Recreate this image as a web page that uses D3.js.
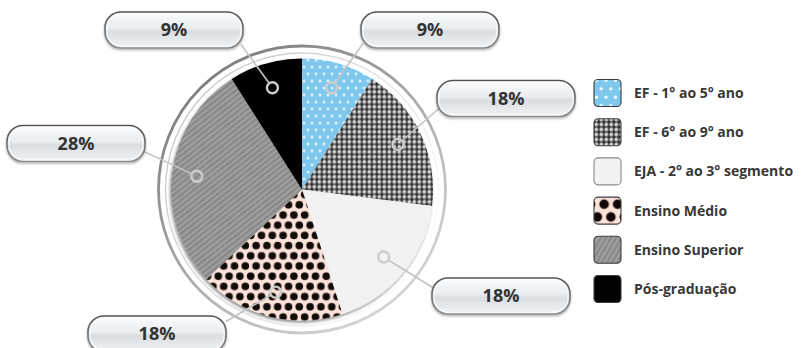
<!DOCTYPE html>
<html>
<head>
<meta charset="utf-8">
<script src="https://cdn.jsdelivr.net/npm/d3@7"></script>
<style>
  html, body { margin: 0; padding: 0; background: #ffffff; }
  svg { display: block; }
  text { font-family: "Open Sans", "DejaVu Sans", sans-serif; }
</style>
</head>
<body>
<svg id="chart" width="803" height="348"></svg>
<script>
// Share of respondents by education level
const categories = [
  "EF - 1° ao 5° ano",
  "EF - 6° ao 9° ano",
  "EJA - 2° ao 3° segmento",
  "Ensino Médio",
  "Ensino Superior",
  "Pós-graduação"
];
const values = [9, 18, 18, 18, 28, 9];
const valueLabels = ["9%", "18%", "18%", "18%", "28%", "9%"];
const fills = ["pBlue", "pMesh", "solidLight", "pDots", "pStripe", "solidBlack"];

// Layout
const W = 803, H = 348;
const cx = 302, cy = 189.5;
const R = 131;          // pie radius
const ringR = 143.5;    // outer bezel radius
const markerR = 106;    // radius of the small marker rings
const boxW = 138, boxH = 36;

// callout boxes: centre offset from pie centre, and where the leader meets the box
const callouts = [
  { dx: 128,  dy: -159.5, ax: 61,  ay: -146 },
  { dx: 204,  dy: -91,    ax: 137, ay: -81 },
  { dx: 199,  dy: 106.5,  ax: 134, ay: 100 },
  { dx: -145, dy: 144.5,  ax: -76, ay: 132 },
  { dx: -226, dy: -46,    ax: -158,ay: -38 },
  { dx: -128, dy: -159.5, ax: -61, ay: -145 }
];

const svg = d3.select("#chart");
const defs = svg.append("defs");

// ---- patterns ----
function patternBlue(id, s) {
  const p = defs.append("pattern").attr("id", id)
    .attr("patternUnits", "userSpaceOnUse")
    .attr("width", 8 * s).attr("height", 14 * s);
  p.append("rect").attr("width", 8 * s).attr("height", 14 * s).attr("fill", "#7ec7ed");
  [[2, 3.5], [6, 10.5]].forEach(([x, y]) =>
    p.append("circle").attr("cx", x * s).attr("cy", y * s).attr("r", 1.35 * s).attr("fill", "#f4fbff"));
}
function patternMesh(id, s) {
  const g = defs.append("radialGradient").attr("id", id + "G")
    .attr("cx", "40%").attr("cy", "40%").attr("r", "65%");
  g.append("stop").attr("offset", "0%").attr("stop-color", "#f4f4f4");
  g.append("stop").attr("offset", "55%").attr("stop-color", "#b4b4b4");
  g.append("stop").attr("offset", "100%").attr("stop-color", "#606060");
  const p = defs.append("pattern").attr("id", id)
    .attr("patternUnits", "userSpaceOnUse")
    .attr("width", 5 * s).attr("height", 5 * s);
  p.append("rect").attr("width", 5 * s).attr("height", 5 * s).attr("fill", "#303030");
  p.append("circle").attr("cx", 2.5 * s).attr("cy", 2.5 * s).attr("r", 2.25 * s)
    .attr("fill", `url(#${id}G)`);
}
function patternDots(id, s) {
  const g = defs.append("radialGradient").attr("id", id + "G");
  g.append("stop").attr("offset", "0%").attr("stop-color", "#0d0605");
  g.append("stop").attr("offset", "82%").attr("stop-color", "#140a08");
  g.append("stop").attr("offset", "100%").attr("stop-color", "#4a3532");
  const w = 10.8 * s, h = 20.4 * s;
  const p = defs.append("pattern").attr("id", id)
    .attr("patternUnits", "userSpaceOnUse")
    .attr("width", w).attr("height", h);
  p.append("rect").attr("width", w).attr("height", h).attr("fill", "#fbe3da");
  [[2.7, 5.1], [8.1, 15.3], [-2.7, 15.3], [13.5, 5.1]].forEach(([x, y]) =>
    p.append("circle").attr("cx", x * s).attr("cy", y * s).attr("r", 3.9 * s)
      .attr("fill", `url(#${id}G)`));
}
function patternStripe(id, angle) {
  const p = defs.append("pattern").attr("id", id)
    .attr("patternUnits", "userSpaceOnUse")
    .attr("width", 10).attr("height", 4.4)
    .attr("patternTransform", `rotate(${angle})`);
  p.append("rect").attr("width", 10).attr("height", 4.4).attr("fill", "#878787");
  p.append("rect").attr("width", 10).attr("height", 2).attr("y", 1.2).attr("fill", "#a2a2a2");
}
patternBlue("pBlue", 1);
patternMesh("pMesh", 1);
patternDots("pDots", 1);
patternStripe("pStripe", -38);
patternBlue("pBlueL", 1.2);
patternMesh("pMeshL", 1);
patternDots("pDotsL", 1.25);
patternStripe("pStripeL", -60);

const solid = { solidLight: "#f2f2f2", solidBlack: "#030303" };
const fillFor = (key, legend) => solid[key] ? solid[key] : `url(#${key}${legend ? "L" : ""})`;

// bezel gradient
const bez = defs.append("linearGradient").attr("id", "bezel")
  .attr("x1", "0%").attr("y1", "0%").attr("x2", "80%").attr("y2", "100%");
bez.append("stop").attr("offset", "0%").attr("stop-color", "#6f6f6f");
bez.append("stop").attr("offset", "55%").attr("stop-color", "#ababab");
bez.append("stop").attr("offset", "100%").attr("stop-color", "#dadada");
const inner = defs.append("linearGradient").attr("id", "innerRing")
  .attr("x1", "0%").attr("y1", "20%").attr("x2", "100%").attr("y2", "80%");
inner.append("stop").attr("offset", "0%").attr("stop-color", "#c4c4c4");
inner.append("stop").attr("offset", "60%").attr("stop-color", "#e6e6e6");
inner.append("stop").attr("offset", "100%").attr("stop-color", "#ffffff");

// callout box gradient
const bg = defs.append("linearGradient").attr("id", "boxFill")
  .attr("x1", "0").attr("y1", "0").attr("x2", "0").attr("y2", "1");
bg.append("stop").attr("offset", "0%").attr("stop-color", "#fbfcfd");
bg.append("stop").attr("offset", "45%").attr("stop-color", "#e9edf0");
bg.append("stop").attr("offset", "55%").attr("stop-color", "#d8dee3");
bg.append("stop").attr("offset", "100%").attr("stop-color", "#f1f4f6");
const bs = defs.append("linearGradient").attr("id", "boxStroke")
  .attr("x1", "0").attr("y1", "0").attr("x2", "0").attr("y2", "1");
bs.append("stop").attr("offset", "0%").attr("stop-color", "#555555");
bs.append("stop").attr("offset", "100%").attr("stop-color", "#8a8a8a");

const shadow = defs.append("filter").attr("id", "pieShadow")
  .attr("x", "-10%").attr("y", "-10%").attr("width", "120%").attr("height", "120%");
shadow.append("feDropShadow").attr("dx", -1).attr("dy", 2).attr("stdDeviation", 1.6)
  .attr("flood-color", "#000").attr("flood-opacity", 0.45);
const boxShadow = defs.append("filter").attr("id", "boxShadow")
  .attr("x", "-10%").attr("y", "-20%").attr("width", "120%").attr("height", "150%");
boxShadow.append("feDropShadow").attr("dx", 0).attr("dy", 1.5).attr("stdDeviation", 1)
  .attr("flood-color", "#000").attr("flood-opacity", 0.3);

// ---- bezel ----
const root = svg.append("g").attr("transform", `translate(${cx},${cy})`);
root.append("circle").attr("r", ringR).attr("fill", "#ffffff")
  .attr("stroke", "url(#bezel)").attr("stroke-width", 2.8);
root.append("circle").attr("r", R + 5.5).attr("fill", "none")
  .attr("stroke", "url(#innerRing)").attr("stroke-width", 1.3);

// ---- pie ----
const pie = d3.pie().sort(null).value(d => d.value);
const arcs = pie(values.map((v, i) => ({ value: v, i })));
const arc = d3.arc().innerRadius(0).outerRadius(R);
const markerArc = d3.arc().innerRadius(markerR).outerRadius(markerR);

root.append("g").attr("filter", "url(#pieShadow)")
  .selectAll("path").data(arcs).join("path")
  .attr("d", arc)
  .attr("fill", d => fillFor(fills[d.data.i], false));

// ---- leaders & callouts ----
const labels = svg.append("g");
arcs.forEach((d, i) => {
  const [mx, my] = markerArc.centroid(d);
  const c = callouts[i];
  const px = cx + mx, py = cy + my;
  const ex = cx + c.ax, ey = cy + c.ay;
  const len = Math.hypot(ex - px, ey - py);
  const sx = px + (ex - px) / len * 5.5, sy = py + (ey - py) / len * 5.5;
  labels.append("line")
    .attr("x1", sx).attr("y1", sy).attr("x2", ex).attr("y2", ey)
    .attr("stroke", "#c4c4c4").attr("stroke-width", 1.6);
  labels.append("circle").attr("cx", px).attr("cy", py).attr("r", 5.5)
    .attr("fill", "none").attr("stroke", "#cdcdcd").attr("stroke-width", 2.4);
});
arcs.forEach((d, i) => {
  const c = callouts[i];
  const bx = cx + c.dx, by = cy + c.dy;
  const g = labels.append("g").attr("transform", `translate(${bx},${by})`);
  g.append("rect")
    .attr("x", -boxW / 2).attr("y", -boxH / 2)
    .attr("width", boxW).attr("height", boxH)
    .attr("rx", 16).attr("ry", 16)
    .attr("fill", "url(#boxFill)")
    .attr("stroke", "url(#boxStroke)").attr("stroke-width", 1.6)
    .attr("filter", "url(#boxShadow)");
  g.append("rect")
    .attr("x", -boxW / 2 + 2).attr("y", -boxH / 2 + 1.7)
    .attr("width", boxW - 4).attr("height", boxH - 3.4)
    .attr("rx", 14.5).attr("ry", 14.5)
    .attr("fill", "none").attr("stroke", "#ffffff").attr("stroke-opacity", 0.8).attr("stroke-width", 1);
  g.append("text")
    .attr("text-anchor", "middle").attr("dy", "0.36em")
    .attr("font-size", 18).attr("font-weight", 700).attr("fill", "#333333")
    .text(valueLabels[d.data.i]);
});

// ---- legend ----
const ly = d3.scalePoint().domain(categories).range([93, 289]);
const legend = svg.append("g");
const item = legend.selectAll("g").data(categories).join("g")
  .attr("transform", d => `translate(594,${ly(d)})`);
item.append("rect")
  .attr("x", 0).attr("y", -13.5).attr("width", 27).attr("height", 27)
  .attr("rx", 4).attr("ry", 4)
  .attr("fill", (d, i) => fillFor(fills[i], true))
  .attr("stroke", (d, i) => fills[i] === "solidLight" ? "#8a8a8a" : "#3c3c3c")
  .attr("stroke-width", 1.1);
item.append("text")
  .attr("x", 40).attr("dy", "0.36em")
  .attr("font-size", 14).attr("font-weight", 700).attr("fill", "#383838")
  .text(d => d);
</script>
</body>
</html>
